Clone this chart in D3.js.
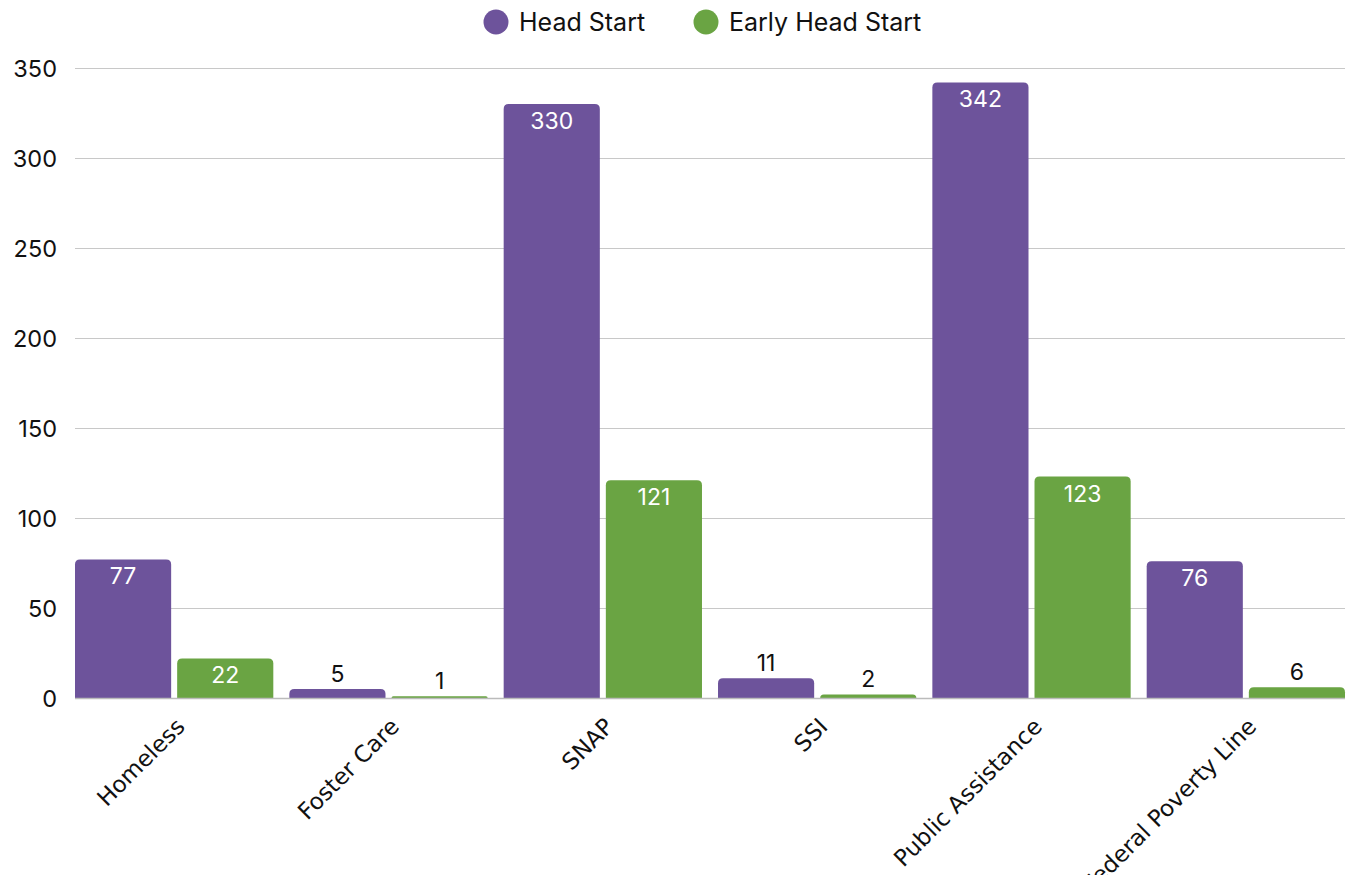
<!DOCTYPE html>
<html><head><meta charset="utf-8">
<script src="https://cdn.jsdelivr.net/npm/d3@7"></script>
<style>body{margin:0;background:#fff;}svg{display:block;}</style>
</head><body>
<svg id="chart" width="1350" height="875"></svg>
<script>
const categories = ["Homeless","Foster Care","SNAP","SSI","Public Assistance","Federal Poverty Line"];
const seriesNames = ["Head Start","Early Head Start"];
const headStart = [77,5,330,11,342,76];
const earlyHeadStart = [22,1,121,2,123,6];
const yTicks = [0,50,100,150,200,250,300,350];
const colors = ["#6d539b","#6aa443"];

const svg = d3.select("#chart");
const m = {left:75, right:5, top:68, bottom:177};
const W = 1350, H = 875;
const x = d3.scaleBand().domain(categories).range([m.left, W - m.right]).paddingInner(16/214).paddingOuter(0);
const x1 = d3.scaleBand().domain(seriesNames).range([0, x.bandwidth()]).paddingInner(6/102);
const y = d3.scaleLinear().domain([0,350]).range([H - m.bottom, m.top]);
const font = "Inter, 'Liberation Sans', Arial, sans-serif";

// grid
svg.append("g").selectAll("line").data(yTicks.filter(d=>d>0)).join("line")
  .attr("x1", m.left).attr("x2", W - m.right)
  .attr("y1", d=>y(d)+0.5).attr("y2", d=>y(d)+0.5)
  .attr("stroke","#c8c8c8").attr("stroke-width",1);

// y axis labels
const yAxis = d3.axisLeft(y).tickValues(yTicks).tickSize(0).tickPadding(18);
const gy = svg.append("g").attr("transform",`translate(${m.left},0)`).call(yAxis);
gy.select(".domain").remove();
gy.selectAll("text").attr("font-family",font).attr("font-size",23.5).attr("fill","#111").attr("dy","0.36em");

const data = categories.map((c,i)=>({cat:c, vals:[headStart[i], earlyHeadStart[i]]}));

function topRounded(x0, y0, w, h, r){
  r = Math.min(r, h, w/2);
  return `M${x0},${y0+h}V${y0+r}Q${x0},${y0} ${x0+r},${y0}H${x0+w-r}Q${x0+w},${y0} ${x0+w},${y0+r}V${y0+h}Z`;
}

const groups = svg.append("g").selectAll("g").data(data).join("g")
  .attr("transform", d=>`translate(${x(d.cat)},0)`);
groups.selectAll("path").data(d=>d.vals.map((v,j)=>({v, s:seriesNames[j], j}))).join("path")
  .attr("d", d=>topRounded(x1(d.s), y(d.v), x1.bandwidth(), y(0)-y(d.v), 5))
  .attr("fill", d=>colors[d.j]);

groups.selectAll("text").data(d=>d.vals.map((v,j)=>({v, s:seriesNames[j], j}))).join("text")
  .attr("x", d=>x1(d.s)+x1.bandwidth()/2)
  .attr("y", d=>{ const h=y(0)-y(d.v); return h>30 ? y(d.v)+25 : y(d.v)-7; })
  .attr("text-anchor","middle")
  .attr("font-family",font).attr("font-size",23)
  .attr("fill", d=> (y(0)-y(d.v))>30 ? "#fff" : "#111")
  .text(d=>d.v);

// x axis line
svg.append("line").attr("x1",m.left).attr("x2",W-m.right).attr("y1",y(0)+0.5).attr("y2",y(0)+0.5)
  .attr("stroke","#bbb").attr("stroke-width",1.5);

// x labels (rotated; the last one runs off the bottom edge as in the reference)
const xAxis = d3.axisBottom(x).tickSize(0).tickPadding(0);
const gx = svg.append("g").attr("transform",`translate(0,${y(0)})`).call(xAxis);
gx.select(".domain").remove();
gx.selectAll("text")
  .attr("font-family","'DejaVu Sans', Verdana, sans-serif").attr("font-size",23).attr("fill","#111")
  .attr("text-anchor","end")
  .attr("dy",0).attr("y",0)
  .attr("transform","translate(12,30) rotate(-45)");

// legend
const leg = svg.append("g");
const legX = [496, 706];
seriesNames.forEach((s,i)=>{
  leg.append("circle").attr("cx",legX[i]).attr("cy",22).attr("r",12.5).attr("fill",colors[i]);
  leg.append("text").attr("x",legX[i]+23).attr("y",30.5).attr("font-family",font)
    .attr("font-size",25).attr("fill","#111").text(s);
});
</script>
</body></html>
